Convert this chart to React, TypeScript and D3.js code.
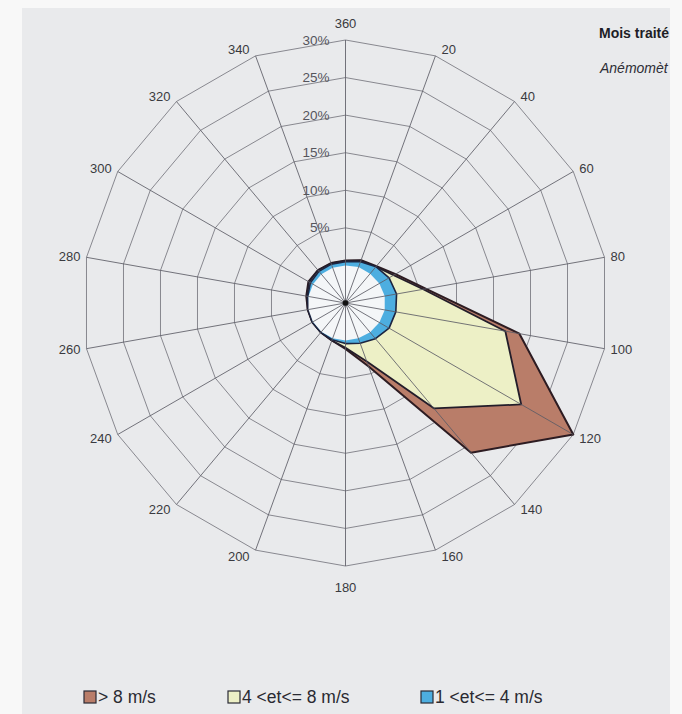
import React from "react";
import * as d3 from "d3";

// Wind directions (degrees) and their labels
const directions = [0, 20, 40, 60, 80, 100, 120, 140, 160, 180, 200, 220, 240, 260, 280, 300, 320, 340];
const dirLabels = ["360", "20", "40", "60", "80", "100", "120", "140", "160", "180", "200", "220", "240", "260", "280", "300", "320", "340"];

// Cumulative frequencies (%) per direction
const calm = [0.0, 0.1, 0.1, 0.2, 0.3, 0.3, 0.2, 0.1, 0.0, 0.0, 0.0, 0.0, 0.0, 0.0, 0.0, 0.0, 0.0, 0.0];
const speed1to4 = [0.5, 0.85, 1.3, 1.7, 1.9, 1.8, 1.7, 1.2, 0.7, 0.4, 0.2, 0.1, 0.1, 0.0, 0.1, 0.4, 0.5, 0.5];
const speed4to8 = [0.6, 1.0, 1.3, 2.4, 5.5, 16.6, 22.0, 13.3, 3.3, 0.95, 0.3, 0.1, 0.1, 0.1, 0.2, 0.6, 0.7, 0.6];
const speedOver8 = [0.65, 1.05, 1.4, 2.7, 5.9, 18.5, 30.0, 21.0, 4.0, 1.1, 0.3, 0.1, 0.1, 0.1, 0.3, 0.7, 0.7, 0.65];

// Radial axis
const ringValues = [0, 5, 10, 15, 20, 25, 30];
const tickValues = [5, 10, 15, 20, 25, 30];
const tickLabels = ["5%", "10%", "15%", "20%", "25%", "30%"];

const legendLabels = ["> 8 m/s", "4 <et<= 8 m/s", "1 <et<= 4 m/s"];

const W = 682, H = 714;
const cx = 345.5, cy = 303, R = 263;
const FONT = "'Liberation Sans', Arial, sans-serif";

const rScale = d3.scaleLinear().domain([-5, 30]).range([0, R]);
const rad = (d: number) => (d * Math.PI) / 180;

const radial = d3
  .lineRadial<number>()
  .angle((_, i) => rad(directions[i]))
  .radius((v) => rScale(v))
  .curve(d3.curveLinearClosed);

export default function App() {
  const outer = rScale(30);
  const series = [
    { values: speedOver8, fill: "#b97d69", stroke: "#2d1c22", sw: 2 },
    { values: speed4to8, fill: "#edf0c6", stroke: "#231d2a", sw: 1.8 },
    { values: speed1to4, fill: "#4daee0", stroke: "#1d2540", sw: 1.6 },
    { values: calm, fill: "#f4f6f8", stroke: "none", sw: 0 },
  ];
  const legendColors = ["#b97d69", "#edf0c6", "#4daee0"];
  const legendX = [84, 228, 421];

  return (
    <svg
      width={W}
      height={H}
      style={{ position: "absolute", left: 0, top: 0, display: "block" }}
      fontFamily={FONT}
    >
      <rect x={0} y={0} width={W} height={H} fill="#f8f8f8" />
      <rect x={22} y={8} width={648} height={H - 8} fill="#e9eaec" />

      <g transform={`translate(${cx},${cy})`}>
        {ringValues.map((v) => (
          <path
            key={"ring" + v}
            d={radial(directions.map(() => v)) || ""}
            fill="none"
            stroke="#7d7d84"
            strokeWidth={0.9}
          />
        ))}
        {series.map((s, i) => (
          <path
            key={"s" + i}
            d={radial(s.values) || ""}
            fill={s.fill}
            stroke={s.stroke}
            strokeWidth={s.sw}
            strokeLinejoin="round"
          />
        ))}
        {directions.map((d) => (
          <line
            key={"sp" + d}
            x1={0}
            y1={0}
            x2={outer * Math.sin(rad(d))}
            y2={-outer * Math.cos(rad(d))}
            stroke="#5c5c66"
            strokeWidth={0.85}
          />
        ))}
        <circle cx={0} cy={0} r={2.8} fill="#111" />
        {directions.map((d, i) => {
          const s = Math.sin(rad(d));
          const c = Math.cos(rad(d));
          const vx = outer * s;
          const vy = -outer * c;
          const w = dirLabels[i].length * 3.6;
          let x = vx, y = vy;
          if (Math.abs(s) < 0.1) {
            y = vy + (c > 0 ? -17 : 21);
          } else {
            x = vx + Math.sign(s) * (6 + w);
            y = vy - c * 7;
          }
          return (
            <text
              key={"dl" + d}
              x={x}
              y={y}
              textAnchor="middle"
              dominantBaseline="central"
              fontSize={13}
              fill="#3a3a40"
            >
              {dirLabels[i]}
            </text>
          );
        })}
        {tickValues.map((v, i) => (
          <text
            key={"tk" + v}
            x={-16}
            y={-rScale(v)}
            textAnchor="end"
            dominantBaseline="central"
            fontSize={13.5}
            fill="#55555c"
          >
            {tickLabels[i]}
          </text>
        ))}
      </g>

      <text x={599} y={38} fontSize={14} fontWeight="bold" fill="#1e1e26">
        Mois traité
      </text>
      <text x={600} y={73} fontSize={14} fontStyle="italic" fill="#2e2e36">
        Anémomèt
      </text>

      {legendLabels.map((l, i) => (
        <g key={"lg" + i} transform={`translate(${legendX[i]},697)`}>
          <rect x={0} y={-6} width={12} height={12} fill={legendColors[i]} stroke="#2a2a35" strokeWidth={1.2} />
          <text x={14} y={0} dominantBaseline="central" fontSize={17.5} fill="#2a2a32">
            {l}
          </text>
        </g>
      ))}
    </svg>
  );
}
